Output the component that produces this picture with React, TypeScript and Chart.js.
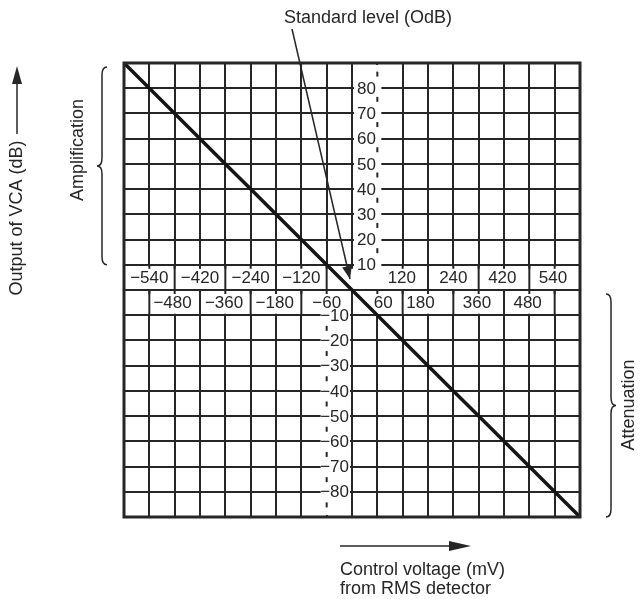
import React, { useEffect, useRef } from "react";
import { Chart, registerables } from "chart.js";

Chart.register(...registerables);

// VCA transfer line: control voltage (mV) -> output (dB)
const controlVoltage = [-540, -480, -420, -360, -300, -240, -180, -120, -60, 0, 60, 120, 180, 240, 300, 360, 420, 480, 540];
const outputLevel = [90, 80, 70, 60, 50, 40, 30, 20, 10, 0, -10, -20, -30, -40, -50, -60, -70, -80, -90];

// y tick labels (amplification above 0 dB, attenuation below)
const amplificationTicks = [80, 70, 60, 50, 40, 30, 20, 10];
const attenuationTicks = [-10, -20, -30, -40, -50, -60, -70, -80];

// x labels in the two rows around the 0 dB line
const upperLabels = ["\u2212540", "\u2212420", "\u2212240", "\u2212120", "120", "240", "420", "540"];
const upperLabelAt = [-480, -360, -240, -120, 118, 240, 356, 476];
const lowerLabels = ["\u2212480", "\u2212360", "\u2212180", "\u221260", "60", "180", "360", "480"];
const lowerLabelAt = [-425, -303, -183, -60, 74, 162, 296, 416];
const upperDividers = [-420, -300, -180, -60, 180, 300, 420];
const lowerDividers = [-480, -360, -240, -120, 0, 120, 240, 360, 480];

const X_MIN = -540;
const X_MAX = 540;
const X_STEP = 60;
const Y_MIN = -90;
const Y_MAX = 90;
const Y_STEP = 10;

const INK = "#262626";
const FONT = "'Liberation Sans', Arial, sans-serif";

function arrowHead(ctx: CanvasRenderingContext2D, tx: number, ty: number, fx: number, fy: number, len: number, half: number) {
  const ang = Math.atan2(ty - fy, tx - fx);
  ctx.beginPath();
  ctx.moveTo(tx, ty);
  ctx.lineTo(tx - len * Math.cos(ang) + half * Math.sin(ang), ty - len * Math.sin(ang) - half * Math.cos(ang));
  ctx.lineTo(tx - len * Math.cos(ang) - half * Math.sin(ang), ty - len * Math.sin(ang) + half * Math.cos(ang));
  ctx.closePath();
  ctx.fill();
}

function leftBrace(ctx: CanvasRenderingContext2D, x: number, top: number, bottom: number, w: number) {
  const mid = (top + bottom) / 2;
  const c = x + w / 2;
  ctx.beginPath();
  ctx.moveTo(x + w, top);
  ctx.quadraticCurveTo(c, top, c, top + 8);
  ctx.lineTo(c, mid - 8);
  ctx.quadraticCurveTo(c, mid, x, mid);
  ctx.quadraticCurveTo(c, mid, c, mid + 8);
  ctx.lineTo(c, bottom - 8);
  ctx.quadraticCurveTo(c, bottom, x + w, bottom);
  ctx.stroke();
}

function rightBrace(ctx: CanvasRenderingContext2D, x: number, top: number, bottom: number, w: number) {
  const mid = (top + bottom) / 2;
  const c = x + w / 2;
  ctx.beginPath();
  ctx.moveTo(x, top);
  ctx.quadraticCurveTo(c, top, c, top + 8);
  ctx.lineTo(c, mid - 8);
  ctx.quadraticCurveTo(c, mid, x + w, mid);
  ctx.quadraticCurveTo(c, mid, c, mid + 8);
  ctx.lineTo(c, bottom - 8);
  ctx.quadraticCurveTo(c, bottom, x, bottom);
  ctx.stroke();
}

const overlay = {
  id: "overlay",
  beforeDatasetsDraw(chart: any) {
    const { ctx, chartArea: a, scales } = chart;
    const X = (v: number) => scales.x.getPixelForValue(v);
    const Y = (v: number) => scales.y.getPixelForValue(v);
    ctx.save();
    const vline = (px: number, y0: number, y1: number) => {
      ctx.beginPath();
      ctx.moveTo(px, y0);
      ctx.lineTo(px, y1);
      ctx.stroke();
    };

    // label band around 0 dB
    ctx.fillStyle = "#fff";
    ctx.fillRect(a.left + 2, Y(10) + 1.5, a.right - a.left - 4, Y(-10) - Y(10) - 3);
    ctx.strokeStyle = INK;
    ctx.lineWidth = 2;
    ctx.beginPath();
    ctx.moveTo(a.left, Y(0));
    ctx.lineTo(a.right, Y(0));
    ctx.stroke();
    upperDividers.forEach((v) => vline(X(v), Y(10), Y(0)));
    lowerDividers.forEach((v) => vline(X(v), Y(0), Y(-10)));
    for (let v = X_MIN + X_STEP; v < X_MAX; v += X_STEP) {
      vline(X(v), Y(10), Y(10) + 4);
      vline(X(v), Y(0), Y(0) + 4);
    }

    // dotted columns behind the y labels
    ctx.fillStyle = "#fff";
    ctx.fillRect(X(60) - 2.5, a.top + 2, 5, Y(10) - a.top - 2);
    ctx.fillRect(X(-60) - 2.5, Y(-10), 5, a.bottom - Y(-10) - 2);
    for (let v = 10; v < Y_MAX; v += Y_STEP) {
      const m = (Y(v) + Y(v + Y_STEP)) / 2;
      vline(X(60), m - 4, m + 1);
    }
    for (let v = -10; v > Y_MIN; v -= Y_STEP) {
      const m = (Y(v) + Y(v - Y_STEP)) / 2;
      vline(X(-60), m - 2, m + 3);
    }

    // y labels
    ctx.font = `17px ${FONT}`;
    ctx.textBaseline = "middle";
    amplificationTicks.forEach((v) => {
      ctx.fillStyle = "#fff";
      ctx.fillRect(X(0) + 2, Y(v) - 8, X(60) - X(0) + 2, 16);
      ctx.fillStyle = INK;
      ctx.textAlign = "left";
      ctx.fillText(String(v), X(0) + 5, Y(v) + 1);
    });
    attenuationTicks.forEach((v) => {
      ctx.fillStyle = "#fff";
      ctx.fillRect(X(-60) - 6, Y(v) - 8, X(0) - X(-60) + 4, 16);
      ctx.fillStyle = INK;
      ctx.textAlign = "right";
      ctx.fillText("\u2212" + String(-v), X(0) - 3, Y(v) + 1);
    });

    // x labels
    ctx.textAlign = "center";
    ctx.fillStyle = INK;
    upperLabels.forEach((t, i) => ctx.fillText(t, X(upperLabelAt[i]), (Y(10) + Y(0)) / 2 + 1));
    lowerLabels.forEach((t, i) => ctx.fillText(t, X(lowerLabelAt[i]), (Y(0) + Y(-10)) / 2 + 1));
    ctx.restore();
  },
  afterDraw(chart: any) {
    const { ctx, chartArea: a, scales } = chart;
    const X = (v: number) => scales.x.getPixelForValue(v);
    const Y = (v: number) => scales.y.getPixelForValue(v);
    ctx.save();
    ctx.strokeStyle = INK;
    ctx.fillStyle = INK;
    ctx.lineWidth = 3;
    ctx.strokeRect(a.left, a.top, a.right - a.left, a.bottom - a.top);

    ctx.font = `18px ${FONT}`;
    ctx.textBaseline = "middle";

    // standard level annotation
    ctx.textAlign = "center";
    ctx.fillText("Standard level (OdB)", X(0) + 16, 18);
    const tx = X(0) - 2;
    const ty = Y(0) - 11;
    const sx = X(0) - 60;
    const sy = 29;
    ctx.lineWidth = 1.5;
    ctx.beginPath();
    ctx.moveTo(sx, sy);
    ctx.lineTo(tx, ty);
    ctx.stroke();
    arrowHead(ctx, tx, ty, sx, sy, 13, 5);

    // y title with arrow
    ctx.save();
    ctx.translate(17, 218);
    ctx.rotate(-Math.PI / 2);
    ctx.textAlign = "center";
    ctx.fillText("Output of VCA (dB)", 0, 0);
    ctx.restore();
    ctx.lineWidth = 1.5;
    ctx.beginPath();
    ctx.moveTo(17, 134);
    ctx.lineTo(17, 80);
    ctx.stroke();
    arrowHead(ctx, 17, 66, 17, 134, 18, 5);

    // amplification / attenuation braces
    ctx.lineWidth = 1.5;
    leftBrace(ctx, 97, a.top + 4, Y(10), 10);
    ctx.save();
    ctx.translate(78, 150);
    ctx.rotate(-Math.PI / 2);
    ctx.textAlign = "center";
    ctx.fillText("Amplification", 0, 0);
    ctx.restore();

    rightBrace(ctx, 606, Y(0) + 4, a.bottom, 10);
    ctx.save();
    ctx.translate(629, 405);
    ctx.rotate(-Math.PI / 2);
    ctx.textAlign = "center";
    ctx.fillText("Attenuation", 0, 0);
    ctx.restore();

    // x title with arrow
    ctx.lineWidth = 1.5;
    ctx.beginPath();
    ctx.moveTo(340, 546);
    ctx.lineTo(455, 546);
    ctx.stroke();
    arrowHead(ctx, 471, 546, 340, 546, 22, 5);
    ctx.textAlign = "left";
    ctx.fillText("Control voltage (mV)", 340, 570);
    ctx.fillText("from RMS detector", 340, 589);
    ctx.restore();
  },
};

export default function App() {
  const ref = useRef<HTMLCanvasElement | null>(null);
  useEffect(() => {
    if (!ref.current) return;
    const chart = new Chart(ref.current, {
      type: "scatter",
      data: {
        datasets: [
          {
            label: "VCA output",
            data: controlVoltage.map((v, i) => ({ x: v, y: outputLevel[i] })),
            showLine: true,
            borderColor: "#151515",
            borderWidth: 3.5,
            pointRadius: 0,
            fill: false,
          },
        ],
      },
      options: {
        responsive: false,
        animation: false,
        devicePixelRatio: 1,
        layout: { padding: { left: 124, top: 63, right: 63, bottom: 82 } },
        plugins: { legend: { display: false }, tooltip: { enabled: false } },
        scales: {
          x: {
            type: "linear",
            min: X_MIN,
            max: X_MAX,
            ticks: { display: false, stepSize: X_STEP },
            grid: { color: INK, lineWidth: 2, drawTicks: false },
            border: { display: false },
          },
          y: {
            type: "linear",
            min: Y_MIN,
            max: Y_MAX,
            ticks: { display: false, stepSize: Y_STEP },
            grid: { color: INK, lineWidth: 2, drawTicks: false },
            border: { display: false },
          },
        },
      },
      plugins: [overlay],
    } as any);
    return () => chart.destroy();
  }, []);
  return (
    <div style={{ position: "absolute", left: 0, top: 0, width: 643, height: 599, background: "#fff" }}>
      <canvas ref={ref} width={643} height={599} style={{ display: "block" }} />
    </div>
  );
}
